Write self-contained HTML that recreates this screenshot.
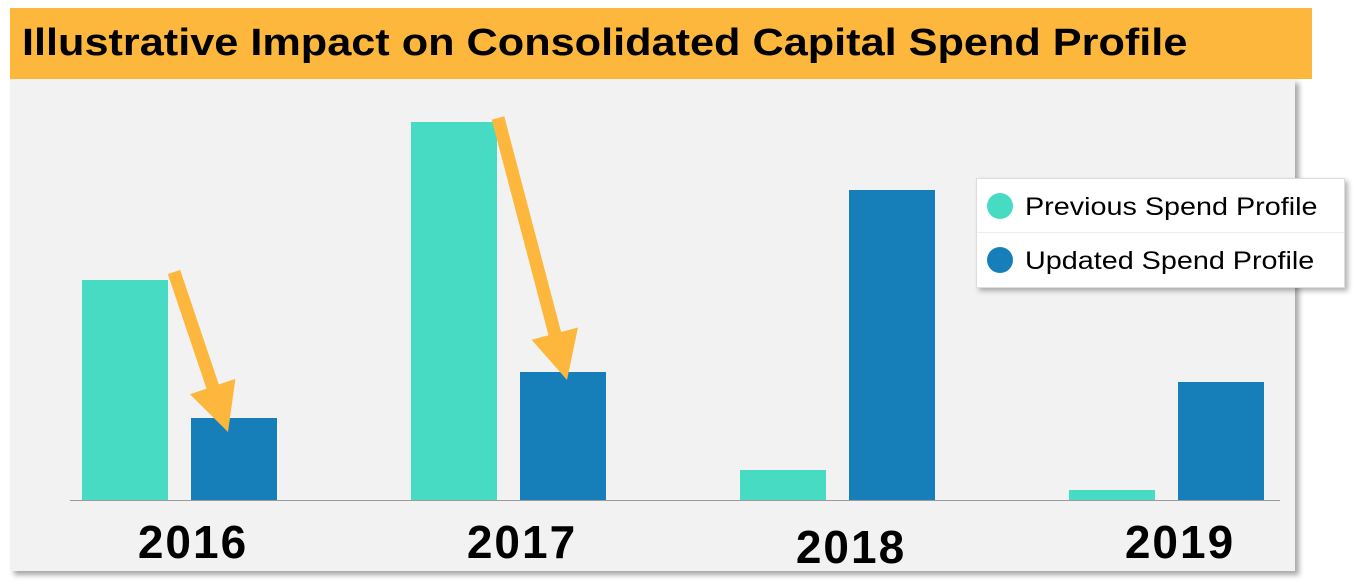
<!DOCTYPE html>
<html><head><meta charset="utf-8"><style>
body{margin:0;width:1358px;height:584px;background:#fff;position:relative;overflow:hidden;font-family:"Liberation Sans",sans-serif}
#title{position:absolute;left:10px;top:8px;width:1302px;height:71px;background:#FDB73C}
#title span{position:absolute;left:12px;top:14px;font-size:38px;font-weight:bold;color:#000;transform:scaleX(1.138);transform-origin:0 0;white-space:nowrap}
#panel{position:absolute;left:10px;top:79px;width:1285px;height:492px;background:#f2f2f2;box-shadow:4px 4px 5px rgba(0,0,0,0.35)}
#legend{position:absolute;left:976px;top:178px;width:367px;height:108px;background:#fff;border:1px solid #ddd;box-shadow:3px 3px 5px rgba(0,0,0,0.3)}
.li{position:absolute;left:10px;font-size:25px;color:#000;white-space:nowrap}
.li .txt{display:inline-block;transform:scaleX(1.15);transform-origin:0 50%}
.dot{display:inline-block;width:26px;height:26px;border-radius:50%;vertical-align:-4px;margin-right:12px}
svg{position:absolute;left:0;top:0}
</style></head><body>
<div id="title"><span>Illustrative Impact on Consolidated Capital Spend Profile</span></div>
<div id="panel"></div>
<svg id="chart" width="1358" height="584"></svg>
<div id="legend">
<div class="li" style="top:14px"><span class="dot" style="background:#47DBC3"></span><span class="txt">Previous Spend Profile</span></div>
<div style="position:absolute;left:0;right:0;top:53px;border-top:1px solid #eee"></div>
<div class="li" style="top:68px"><span class="dot" style="background:#167FBA"></span><span class="txt">Updated Spend Profile</span></div>
</div>
<script>
const categories=['2016','2017','2018','2019'];
const previousSpend=[55,94.5,7.5,2.5];
const updatedSpend=[20.5,32,77.5,29.5];
const ns='http://www.w3.org/2000/svg';
const svg=document.getElementById('chart');
const baseY=500,pxPerUnit=4;
const y=v=>baseY-v*pxPerUnit;
const groupX=i=>82+i*329;
const labelY=[558,558,563,558];
function mk(t,a){const e=document.createElementNS(ns,t);for(const k in a)e.setAttribute(k,a[k]);svg.appendChild(e);return e;}
const axis=mk('line',{x1:70,x2:1280,y1:baseY+0.5,y2:baseY+0.5,stroke:'#999','stroke-width':1});


categories.forEach((c,i)=>{
  const x=groupX(i);
  const b1=mk('rect',{x:x,y:y(previousSpend[i]),width:86,height:baseY-y(previousSpend[i]),fill:'#47DBC3'});
  
  
  const b2=mk('rect',{x:x+109,y:y(updatedSpend[i]),width:86,height:baseY-y(updatedSpend[i]),fill:'#167FBA'});
  
  
  const t=mk('text',{x:x+111,y:labelY[i],'text-anchor':'middle','font-size':46,'letter-spacing':2,'font-weight':'bold','font-family':'Liberation Sans, sans-serif',fill:'#000'});
  t.textContent=c;
  
  
});
function arrow(x1,y1,x2,y2,name){
  const dx=x2-x1,dy=y2-y1,L=Math.hypot(dx,dy),ux=dx/L,uy=dy/L,px=-uy,py=ux;
  const hl=48,hw=24,bx=x2-ux*hl,by=y2-uy*hl;
  const g=document.createElementNS(ns,'g');svg.appendChild(g);
  
  
  const l=document.createElementNS(ns,'line');
  [['x1',x1],['y1',y1],['x2',bx+ux*2],['y2',by+uy*2],['stroke','#FDB73C'],['stroke-width',13]].forEach(a=>l.setAttribute(a[0],a[1]));g.appendChild(l);
  const p=document.createElementNS(ns,'polygon');
  p.setAttribute('points',`${x2},${y2} ${bx+px*hw},${by+py*hw} ${bx-px*hw},${by-py*hw}`);
  p.setAttribute('fill','#FDB73C');g.appendChild(p);
}
arrow(174,272,228,432,'arrow-2016');
arrow(498,118,567,380,'arrow-2017');
</script>
</body></html>
